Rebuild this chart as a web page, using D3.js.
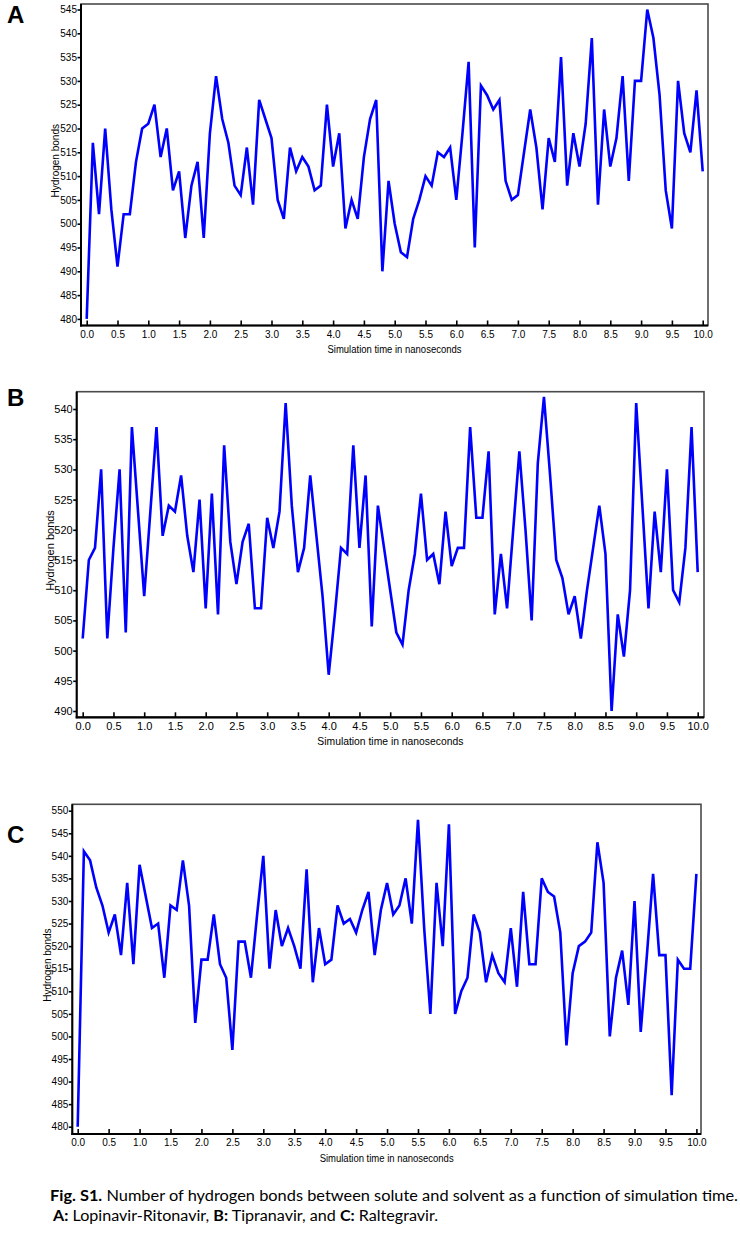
<!DOCTYPE html>
<html><head><meta charset="utf-8">
<script src="https://cdn.jsdelivr.net/npm/d3@7/dist/d3.min.js"></script>
<style>body{margin:0;background:#fff} svg{display:block}</style>
</head><body>
<svg id="chart" width="740" height="1233"></svg>
<script>
// ---------- data ----------
const timeNs = [0.0,0.1,0.2,0.3,0.4,0.5,0.6,0.7,0.8,0.9,
  1.0,1.1,1.2,1.3,1.4,1.5,1.6,1.7,1.8,1.9,
  2.0,2.1,2.2,2.3,2.4,2.5,2.6,2.7,2.8,2.9,
  3.0,3.1,3.2,3.3,3.4,3.5,3.6,3.7,3.8,3.9,
  4.0,4.1,4.2,4.3,4.4,4.5,4.6,4.7,4.8,4.9,
  5.0,5.1,5.2,5.3,5.4,5.5,5.6,5.7,5.8,5.9,
  6.0,6.1,6.2,6.3,6.4,6.5,6.6,6.7,6.8,6.9,
  7.0,7.1,7.2,7.3,7.4,7.5,7.6,7.7,7.8,7.9,
  8.0,8.1,8.2,8.3,8.4,8.5,8.6,8.7,8.8,8.9,
  9.0,9.1,9.2,9.3,9.4,9.5,9.6,9.7,9.8,9.9,10.0];

// A: Lopinavir-Ritonavir
const hbondsA = [480,517,502,520,503,491,502,502,513,520,
  521,525,514,520,507,511,497,508,513,497,
  519,531,522,517,508,506,516,504,526,522,
  518,505,501,516,511,514,512,507,508,525,
  512,519,499,505,501,514,522,526,490,509,
  500,494,493,501,505,510,508,515,514,516,
  505,519,534,495,529,527,524,526,509,505,
  506,515,524,516,503,518,513,535,508,519,
  512,521,539,504,524,512,518,531,509,530,
  530,545,539,527,507,499,530,519,515,528,511];

// B: Tipranavir
const hbondsB = [502,515,517,530,502,517,530,503,537,523,
  509,523,537,519,524,523,529,519,513,525,
  507,526,506,534,518,511,518,521,507,507,
  522,517,523,541,524,513,517,529,519,509,
  496,506,517,516,534,517,529,504,524,517,
  510,503,501,510,516,526,515,516,511,523,
  514,517,517,537,522,522,533,506,516,507,
  520,533,520,505,531,542,529,515,512,506,
  509,502,510,517,524,516,490,506,499,510,
  541,524,507,523,513,530,510,508,517,537,513];

// C: Raltegravir
const hbondsC = [480,541,539,533,529,523,527,518,534,516,
  538,531,524,525,513,529,528,539,529,503,
  517,517,527,516,513,497,521,521,513,527,
  540,515,528,520,524,520,515,537,512,524,
  516,517,529,525,526,523,528,532,518,528,
  534,527,529,535,525,548,524,505,534,520,
  547,505,510,513,527,523,512,518,514,512,
  524,511,532,516,516,535,532,531,523,498,
  514,520,521,523,543,534,500,513,519,507,
  530,501,518,536,518,518,487,517,515,515,536];

const xTickValues = [0,0.5,1,1.5,2,2.5,3,3.5,4,4.5,5,5.5,6,6.5,7,7.5,8,8.5,9,9.5,10];
const yTicksA = [480,485,490,495,500,505,510,515,520,525,530,535,540,545];
const yTicksB = [490,495,500,505,510,515,520,525,530,535,540];
const yTicksC = [480,485,490,495,500,505,510,515,520,525,530,535,540,545,550];

const panelLetters = ["A","B","C"];
const xTitle = "Simulation time in nanoseconds";
const yTitle = "Hydrogen bonds";

// ---------- layout ----------
const layout = [
  {values:hbondsA, yTicks:yTicksA, left:81, right:708, top:4, bottom:325.5,
   x0:86.7, x1:702.7, yLo:480, yHi:545, yLoPx:318.9, yHiPx:9.5, ylabX:58.5, letterY:23, fs:10, xtLen:134},
  {values:hbondsB, yTicks:yTicksB, left:76.7, right:704, top:391.7, bottom:717.3,
   x0:82.7, x1:697.7, yLo:490, yHi:540, yLoPx:711, yHiPx:409, ylabX:54, letterY:406, fs:11, xtLen:146},
  {values:hbondsC, yTicks:yTicksC, left:72.3, right:701, top:804.3, bottom:1134,
   x0:77.7, x1:696.4, yLo:480, yHi:550, yLoPx:1126.7, yHiPx:810.7, ylabX:50.5, letterY:843, fs:10, xtLen:134}
];

const svg = d3.select("#chart");
const font = "'Liberation Sans', Arial, sans-serif";

layout.forEach((p, i) => {
  const x = d3.scaleLinear().domain([0, 10]).range([p.x0, p.x1]);
  const y = d3.scaleLinear().domain([p.yLo, p.yHi]).range([p.yLoPx, p.yHiPx]);
  const g = svg.append("g");

  // frame
  g.append("rect").attr("x", p.left).attr("y", p.top)
    .attr("width", p.right - p.left).attr("height", p.bottom - p.top)
    .attr("fill", "none").attr("stroke", "#4a4a4a").attr("stroke-width", 1.6);

  // line
  const line = d3.line().x((d, k) => x(timeNs[k])).y(d => y(d));
  g.append("path").datum(p.values)
    .attr("d", line).attr("fill", "none")
    .attr("stroke", "#0000ff").attr("stroke-width", 2.6)
    .attr("stroke-linejoin", "miter").attr("stroke-miterlimit", 4);

  // y axis
  const ya = g.append("g").attr("transform", `translate(${p.left},0)`)
    .call(d3.axisLeft(y).tickValues(p.yTicks).tickSize(3.5).tickPadding(0.5).tickFormat(d3.format("d")));
  ya.select(".domain").remove();
  ya.selectAll("line").attr("stroke", "#000").attr("stroke-width", 1.6);
  ya.selectAll("text").attr("font-family", font).attr("font-size", p.fs).attr("fill", "#000");

  // x axis
  const xa = g.append("g").attr("transform", `translate(0,${p.bottom})`)
    .call(d3.axisBottom(x).tickValues(xTickValues).tickSizeInner(-5).tickSizeOuter(0)
      .tickPadding(5).tickFormat(d3.format(".1f")));
  xa.select(".domain").remove();
  xa.selectAll("line").attr("stroke", "#000").attr("stroke-width", 1.6);
  xa.selectAll("text").attr("font-family", font).attr("font-size", p.fs).attr("fill", "#000");

  // axis lines (left and bottom black)
  g.append("line").attr("x1", p.left).attr("x2", p.left).attr("y1", p.top).attr("y2", p.bottom + 1)
    .attr("stroke", "#000").attr("stroke-width", 2);
  g.append("line").attr("x1", p.left - 1).attr("x2", p.right).attr("y1", p.bottom).attr("y2", p.bottom)
    .attr("stroke", "#000").attr("stroke-width", 2.2);

  // titles
  g.append("text").attr("x", (p.left + p.right) / 2).attr("y", p.bottom + 27.5)
    .attr("text-anchor", "middle").attr("font-family", font).attr("font-size", p.fs)
    .attr("textLength", p.xtLen).attr("lengthAdjust", "spacingAndGlyphs").text(xTitle);
  g.append("text").attr("transform", `translate(${p.ylabX},${(p.top + p.bottom) / 2 - 4}) rotate(-90)`)
    .attr("text-anchor", "middle").attr("font-family", font).attr("font-size", p.fs)
    .text(yTitle);

  // panel letter
  svg.append("text").attr("x", 7).attr("y", p.letterY)
    .attr("font-family", "'Liberation Sans', Arial, sans-serif").attr("font-weight", "bold")
    .attr("font-size", 24).text(panelLetters[i]);
});

// caption
const cap1 = svg.append("text").attr("x", 50).attr("y", 1201)
  .attr("font-family", "Lato, 'Open Sans', sans-serif").attr("font-size", 14.5)
  .attr("textLength", 688).attr("lengthAdjust", "spacingAndGlyphs");
cap1.append("tspan").attr("font-weight", "bold").text("Fig. S1.");
cap1.append("tspan").text(" Number of hydrogen bonds between solute and solvent as a function of simulation time.");

const cap2 = svg.append("text").attr("x", 53).attr("y", 1221)
  .attr("font-family", "Lato, 'Open Sans', sans-serif").attr("font-size", 14.5)
  .attr("textLength", 385).attr("lengthAdjust", "spacingAndGlyphs");
cap2.append("tspan").attr("font-weight", "bold").text("A:");
cap2.append("tspan").text(" Lopinavir-Ritonavir, ");
cap2.append("tspan").attr("font-weight", "bold").text("B:");
cap2.append("tspan").text(" Tipranavir, and ");
cap2.append("tspan").attr("font-weight", "bold").text("C:");
cap2.append("tspan").text(" Raltegravir.");
</script>
</body></html>
